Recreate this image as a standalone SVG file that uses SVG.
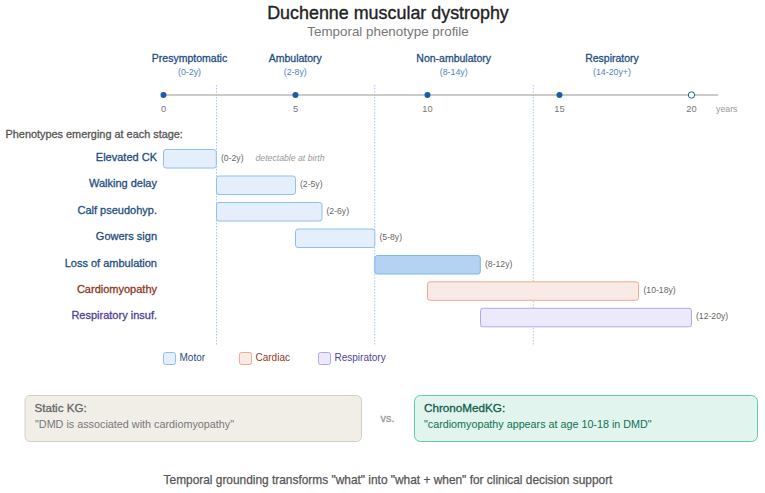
<svg xmlns="http://www.w3.org/2000/svg" width="765" height="493" viewBox="0 0 765 493">
<style>
text{font-family:"Liberation Sans",Arial,sans-serif}
.m{text-anchor:middle}.e{text-anchor:end}
.stage{font-size:10.5px;fill:#1f4e82;stroke:#1f4e82;stroke-width:.3px}
.range{font-size:8.8px;fill:#4a86c5}
.tick{font-size:9.3px;fill:#777}
.lab{font-size:11px;stroke-width:.3px}
.ml{fill:#1f4e82;stroke:#1f4e82}.cl{fill:#8a3a22;stroke:#8a3a22}.rl{fill:#4f3f9e;stroke:#4f3f9e}
.yr{font-size:8.65px;fill:#666}
.guide{stroke:#a3ccf2;stroke-width:1;stroke-dasharray:1.5 1.5;fill:none}
.motor{fill:#e5effb;stroke:#8fbfee;stroke-width:1}
.motor2{fill:#b4d2f2;stroke:#82b5ea;stroke-width:1}
.cardiac{fill:#f8ebe5;stroke:#f3a78f;stroke-width:1}
.resp{fill:#ebe9fb;stroke:#b1a8ea;stroke-width:1}
.dot{fill:#1a5ea8}
.leg{font-size:10px}
</style>
<rect width="765" height="493" fill="#fff"/>
<text class="m" x="388" y="19" font-size="17.9" fill="#222" stroke="#222" stroke-width=".35">Duchenne muscular dystrophy</text>
<text class="m" x="388" y="36" font-size="13.4" fill="#777">Temporal phenotype profile</text>

<g id="guides">
<line class="guide" x1="216.5" y1="85" x2="216.5" y2="345"/>
<line class="guide" x1="374.7" y1="85" x2="374.7" y2="345"/>
<line class="guide" x1="533.3" y1="85" x2="533.3" y2="345"/>
</g>

<g id="stages">
<g id="stage-presymptomatic"><text class="stage m" x="189.5" y="62">Presymptomatic</text><text class="range m" x="189.5" y="75">(0-2y)</text></g>
<g id="stage-ambulatory"><text class="stage m" x="295.3" y="62">Ambulatory</text><text class="range m" x="295.3" y="75">(2-8y)</text></g>
<g id="stage-non-ambulatory"><text class="stage m" x="453.7" y="62">Non-ambulatory</text><text class="range m" x="453.7" y="75">(8-14y)</text></g>
<g id="stage-respiratory"><text class="stage m" x="612" y="62">Respiratory</text><text class="range m" x="612" y="75">(14-20y+)</text></g>
</g>

<g id="axis">
<line x1="163.5" y1="95" x2="718" y2="95" stroke="#bdbab3" stroke-width="1.5"/>
<circle class="dot" cx="163.5" cy="95" r="3"/>
<circle class="dot" cx="295.5" cy="95" r="3"/>
<circle class="dot" cx="427.5" cy="95" r="3"/>
<circle class="dot" cx="559.5" cy="95" r="3"/>
<circle cx="691.5" cy="95" r="3.2" fill="#fff" stroke="#1a5ea8" stroke-width="1"/>
<text class="tick m" x="163.5" y="112">0</text>
<text class="tick m" x="295.5" y="112">5</text>
<text class="tick m" x="427.5" y="112">10</text>
<text class="tick m" x="559.5" y="112">15</text>
<text class="tick m" x="691.5" y="112">20</text>
<text x="716" y="112" font-size="8.8" fill="#999">years</text>
</g>

<text x="5.5" y="138" font-size="10.9" fill="#555" stroke="#555" stroke-width=".3">Phenotypes emerging at each stage:</text>

<g id="node-elevated-ck"><text class="lab ml e" x="157" y="161">Elevated CK</text><rect class="motor" x="163.5" y="149.5" width="52.8" height="18.5" rx="2.5"/><text class="yr" x="221" y="161">(0-2y)</text><text x="255.5" y="161" font-size="8.7" font-style="italic" fill="#999">detectable at birth</text></g>
<g id="node-walking-delay"><text class="lab ml e" x="157" y="187">Walking delay</text><rect class="motor" x="216.5" y="176" width="79" height="18.5" rx="2.5"/><text class="yr" x="300" y="187">(2-5y)</text></g>
<g id="node-calf"><text class="lab ml e" x="157" y="214">Calf pseudohyp.</text><rect class="motor" x="216.5" y="202.5" width="105.5" height="18.5" rx="2.5"/><text class="yr" x="326.5" y="214">(2-6y)</text></g>
<g id="node-gowers"><text class="lab ml e" x="157" y="240">Gowers sign</text><rect class="motor" x="295.5" y="229" width="79.3" height="18.5" rx="2.5"/><text class="yr" x="379.5" y="240">(5-8y)</text></g>
<g id="node-loss"><text class="lab ml e" x="157" y="267">Loss of ambulation</text><rect class="motor2" x="374.8" y="255.5" width="105.5" height="18.5" rx="2.5"/><text class="yr" x="485" y="267">(8-12y)</text></g>
<g id="node-cardiomyopathy"><text class="lab cl e" x="157" y="293">Cardiomyopathy</text><rect class="cardiac" x="427.5" y="281.8" width="211" height="18.5" rx="2.5"/><text class="yr" x="643.5" y="293">(10-18y)</text></g>
<g id="node-respiratory"><text class="lab rl e" x="157" y="319">Respiratory insuf.</text><rect class="resp" x="480.5" y="308.3" width="211" height="18.5" rx="2.5"/><text class="yr" x="696" y="319">(12-20y)</text></g>

<g id="legend">
<rect class="motor" x="163.5" y="352.5" width="12" height="12" rx="2"/><text class="leg" x="179.5" y="361" fill="#1f4e82">Motor</text>
<rect class="cardiac" x="239.5" y="352.5" width="12" height="12" rx="2"/><text class="leg" x="255.5" y="361" fill="#8a3a22">Cardiac</text>
<rect class="resp" x="318.5" y="352.5" width="12" height="12" rx="2"/><text class="leg" x="334.5" y="361" fill="#4f3f9e">Respiratory</text>
</g>

<g id="static-kg">
<rect x="25" y="395.5" width="336.5" height="46" rx="5" fill="#f1eee8" stroke="#d3d0c6" stroke-width="1"/>
<text x="34.5" y="412" font-size="11.6" fill="#666" stroke="#666" stroke-width=".3">Static KG:</text>
<text x="35" y="428" font-size="10.8" fill="#777">"DMD is associated with cardiomyopathy"</text>
</g>
<text class="m" x="387.5" y="422" font-size="10.8" fill="#999" stroke="#999" stroke-width=".3">vs.</text>
<g id="chronomedkg">
<rect x="414.5" y="395.5" width="343" height="46" rx="6" fill="#e1f4ed" stroke="#62cba5" stroke-width="1"/>
<text x="424" y="412" font-size="11.7" fill="#125c48" stroke="#125c48" stroke-width=".3">ChronoMedKG:</text>
<text x="424" y="428" font-size="10.75" fill="#137055">"cardiomyopathy appears at age 10-18 in DMD"</text>
</g>
<text class="m" x="388" y="484" font-size="11.9" fill="#555" stroke="#555" stroke-width=".25">Temporal grounding transforms "what" into "what + when" for clinical decision support</text>
</svg>
